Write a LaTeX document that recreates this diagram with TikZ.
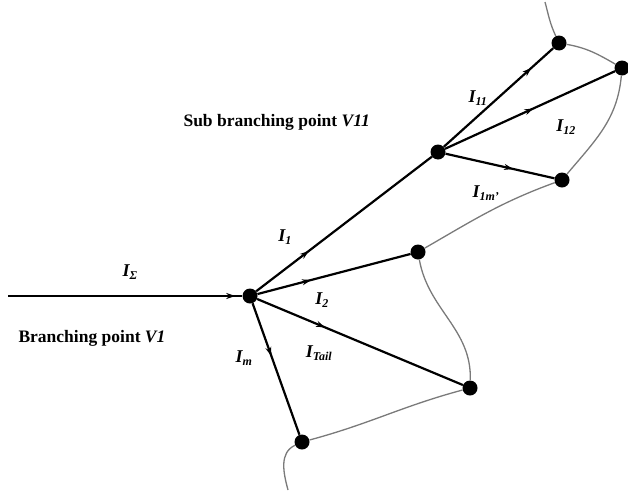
\documentclass[tikz,border=0pt]{standalone}
\usepackage{fontspec}
\setmainfont{Liberation Serif}
\usetikzlibrary{arrows.meta,decorations.markings}
\definecolor{ink}{HTML}{000000}
\definecolor{cable}{HTML}{7A7A7A}
\newcommand{\curr}[1]{I$_{\hbox{\fontsize{12}{12}\selectfont\bfseries\itshape #1}}$}
\tikzset{
  junction/.style={circle, fill=ink, inner sep=0pt, minimum size=15pt},
  flowline/.style={line width=2.2pt, color=ink, postaction={decorate},
    decoration={markings, mark=at position #1 with {\arrow{Stealth[length=9pt,width=6pt]}}}},
  flowline/.default=0.5,
  border/.style={line width=1.3pt, color=cable},
  currentlabel/.style={font=\fontsize{18}{20}\selectfont\bfseries\itshape},
  pointlabel/.style={font=\fontsize{17.5}{20}\selectfont\bfseries, anchor=west},
}
\begin{document}
\begin{tikzpicture}[x=1pt, y=-1pt]
\useasboundingbox (0,0) rectangle (628,490);
% Junctions
\node[junction] (v1) at (250,296) {};
\node[junction] (v11) at (438,152) {};
\node[junction] (n11) at (559,43) {};
\node[junction] (n12) at (622,68) {};
\node[junction] (n1m) at (562,180) {};
\node[junction] (n2) at (418,252) {};
\node[junction] (ntail) at (470,388) {};
\node[junction] (nm) at (302,442) {};
\coordinate (feed) at (8,296);
\coordinate (btop) at (545,2);
\coordinate (bbot) at (288,490);

% Boundary curve
\draw[border] (btop) to[out=-75, in=115] (n11);
\draw[border] (n11) to[out=-10, in=150] (n12);
\draw[border] (n12) to[out=-95, in=50] (n1m);
\draw[border] (n1m) to[out=200, in=30] (n2);
\draw[border] (n2) to[out=-80, in=88] (ntail);
\draw[border] (ntail) to[out=195, in=15] (nm);
\draw[border] (nm) to[out=205, in=105] (bbot);

% Branches
\draw[flowline=0.97, line width=2.6pt] (feed) -- (v1);
\draw[flowline=0.3] (v1) -- (v11);
\draw[flowline=0.35] (v1) -- (n2);
\draw[flowline=0.33] (v1) -- (ntail);
\draw[flowline=0.4] (v1) -- (nm);
\draw[flowline=0.8] (v11) -- (n11);
\draw[flowline=0.52] (v11) -- (n12);
\draw[flowline=0.62] (v11) -- (n1m);

% Labels
\node[currentlabel] (lsum) at (130,272) {\curr{Σ}};
\node[currentlabel] (l1) at (285,237) {\curr{1}};
\node[currentlabel] (l2) at (322,300) {\curr{2}};
\node[currentlabel] (lm) at (244,358) {\curr{m}};
\node[currentlabel] (ltail) at (319,353) {\curr{Tail}};
\node[currentlabel] (l11) at (478,98) {\curr{11}};
\node[currentlabel] (l12) at (566,127) {\curr{12}};
\node[currentlabel] (l1m) at (486,193) {\curr{1m'}};
\node[pointlabel] (bp) at (15,338) {Branching point \textit{V1}};
\node[pointlabel] (sbp) at (180,122) {Sub branching point \textit{V11}};
\end{tikzpicture}
\end{document}
